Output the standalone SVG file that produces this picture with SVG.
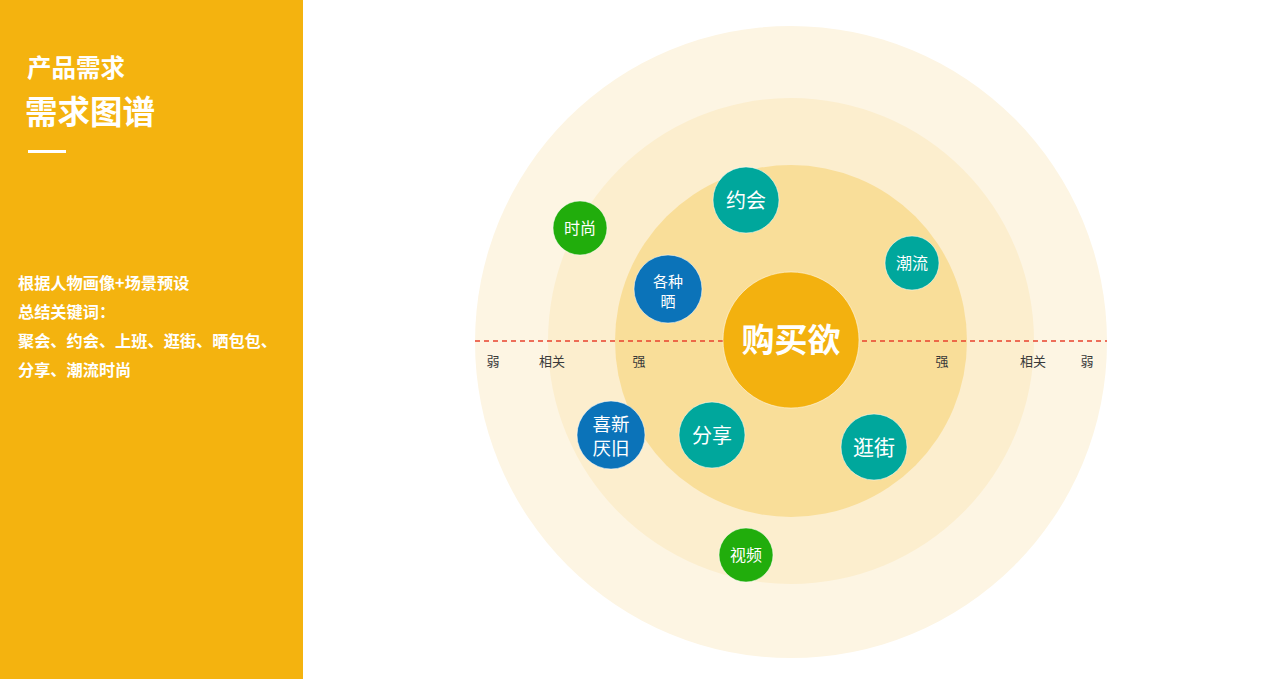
<svg xmlns="http://www.w3.org/2000/svg" width="1280" height="679" viewBox="0 0 1280 679">
<style>
.cjk{font-family:"Noto Sans CJK SC","Liberation Sans",sans-serif}
.w{fill:#fff}
.lbl{font-family:"Noto Sans CJK SC","Liberation Sans",sans-serif;font-size:13px;fill:#3a3a3a;text-anchor:middle}
.node circle{stroke:#fff;stroke-opacity:0.5;stroke-width:1}
.node text{font-family:"Noto Sans CJK SC","Liberation Sans",sans-serif;fill:#fff;text-anchor:middle}
.green{fill:#21AD0C}.teal{fill:#00A79C}.blue{fill:#0B73B9}
</style>
<rect width="1280" height="679" fill="#fff"/>
<g id="sidebar">
<rect x="0" y="0" width="303" height="679" fill="#F4B30F"/>
<text class="cjk w" x="27" y="77" font-size="24.5" font-weight="bold">产品需求</text>
<text class="cjk w" x="25" y="124" font-size="32.5" font-weight="bold">需求图谱</text>
<rect x="28" y="150" width="38" height="3" fill="#fff"/>
<g class="cjk w" font-size="16.2" font-weight="bold">
<text x="18" y="289">根据人物画像+场景预设</text>
<text x="18" y="318">总结关键词：</text>
<text x="18" y="347">聚会、约会、上班、逛街、晒包包、</text>
<text x="18" y="376">分享、潮流时尚</text>
</g>
</g>
<g id="rings">
<circle cx="791" cy="342" r="316" fill="#FDF5E3"/>
<circle cx="791" cy="341" r="243" fill="#FCEECE"/>
<circle cx="791" cy="341" r="176" fill="#F9DE99"/>
</g>
<g id="connectors">
<line x1="475" y1="341" x2="1107" y2="341" stroke="#E8412E" stroke-width="1.5" stroke-dasharray="5,4"/>
</g>
<g id="core" class="node">
<circle cx="791" cy="340" r="68" fill="#F3B10F" stroke="#fff" stroke-opacity="0.4"/>
<text x="791" y="352" font-size="33" font-weight="bold">购买欲</text>
</g>
<g id="axis-labels">
<text class="lbl" x="493" y="366">弱</text>
<text class="lbl" x="552" y="366">相关</text>
<text class="lbl" x="639" y="366">强</text>
<text class="lbl" x="942" y="366">强</text>
<text class="lbl" x="1033" y="366">相关</text>
<text class="lbl" x="1087" y="366">弱</text>
</g>
<g id="n-shishang" class="node"><circle class="green" cx="580" cy="228" r="27"/><text x="580" y="234" font-size="16">时尚</text></g>
<g id="n-yuehui" class="node"><circle class="teal" cx="746" cy="200" r="33"/><text x="746" y="208" font-size="20">约会</text></g>
<g id="n-chaoliu" class="node"><circle class="teal" cx="912" cy="263" r="27"/><text x="912" y="269" font-size="16">潮流</text></g>
<g id="n-gezhongshai" class="node"><circle class="blue" cx="668" cy="289" r="34"/><text x="668" y="287" font-size="15">各种</text><text x="668" y="307" font-size="15">晒</text></g>
<g id="n-xixin" class="node"><circle class="blue" cx="611" cy="435" r="34"/><text x="611" y="431" font-size="18.5">喜新</text><text x="611" y="455" font-size="18.5">厌旧</text></g>
<g id="n-fenxiang" class="node"><circle class="teal" cx="712" cy="435" r="33"/><text x="712" y="443" font-size="20">分享</text></g>
<g id="n-guangjie" class="node"><circle class="teal" cx="874" cy="447" r="33"/><text x="874" y="455" font-size="21">逛街</text></g>
<g id="n-shipin" class="node"><circle class="green" cx="746" cy="555" r="27"/><text x="746" y="561" font-size="16">视频</text></g>
</svg>
